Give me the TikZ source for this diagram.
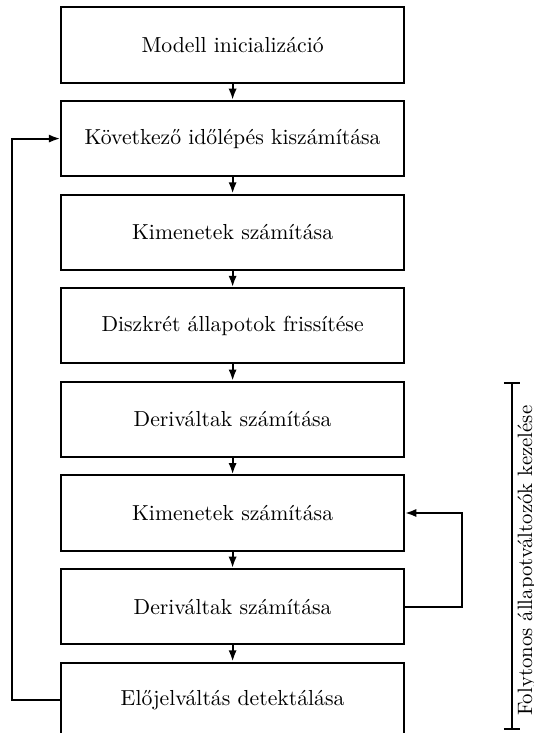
\documentclass[tikz,border=0pt]{standalone}
\usepackage{tikz}
\usetikzlibrary{arrows.meta,calc}

\begin{document}
\begin{tikzpicture}[
  stepbox/.style={draw,line width=1pt,align=center,font=\fontsize{10.6}{12.7}\selectfont,
    minimum width=5.88cm,minimum height=1.29cm,inner sep=2pt},
  arrow/.style={-{Latex[length=5.5pt,width=4pt]},line width=1pt},
  bracket/.style={line width=1pt}
]
\useasboundingbox (0,0) rectangle (9.143,-12.573);

% ---- main chain ----
\node[stepbox] (init) at (3.99,-0.772)  {Modell inicializáció};
\node[stepbox] (next) at (3.99,-2.377)  {Következő időlépés kiszámítása};
\node[stepbox] (out1) at (3.99,-3.983)  {Kimenetek számítása};
\node[stepbox] (disc) at (3.99,-5.588)  {Diszkrét állapotok frissítése};
\node[stepbox] (der1) at (3.99,-7.194)  {Deriváltak számítása};
\node[stepbox] (out2) at (3.99,-8.799)  {Kimenetek számítása};
\node[stepbox] (der2) at (3.99,-10.405) {Deriváltak számítása};
\node[stepbox] (zero) at (3.99,-12.010) {Előjelváltás detektálása};
\draw[arrow](init)--(next); \draw[arrow](next)--(out1); \draw[arrow](out1)--(disc);
\draw[arrow](disc)--(der1); \draw[arrow](der1)--(out2); \draw[arrow](out2)--(der2);
\draw[arrow](der2)--(zero);

% ---- feedback loops ----
\draw[arrow](zero.west)-|(0.206,-2.377)--(next.west);
\draw[arrow](der2.east)-|(7.925,-8.799)--(out2.east);

% ---- bracket for the continuous part ----
\coordinate (btop) at (8.78,-6.57);
\coordinate (bbot) at (8.78,-12.50);
\draw[bracket](btop)--(bbot);
\draw[bracket]([xshift=-0.137cm]btop)--([xshift=0.137cm]btop);
\draw[bracket]([xshift=-0.137cm]bbot)--([xshift=0.137cm]bbot);
\node[rotate=90,anchor=north,inner sep=0pt,font=\fontsize{10.15}{12}\selectfont]
  (blabel) at (8.87,-9.62) {Folytonos állapotváltozók kezelése};
\end{tikzpicture}
\end{document}
